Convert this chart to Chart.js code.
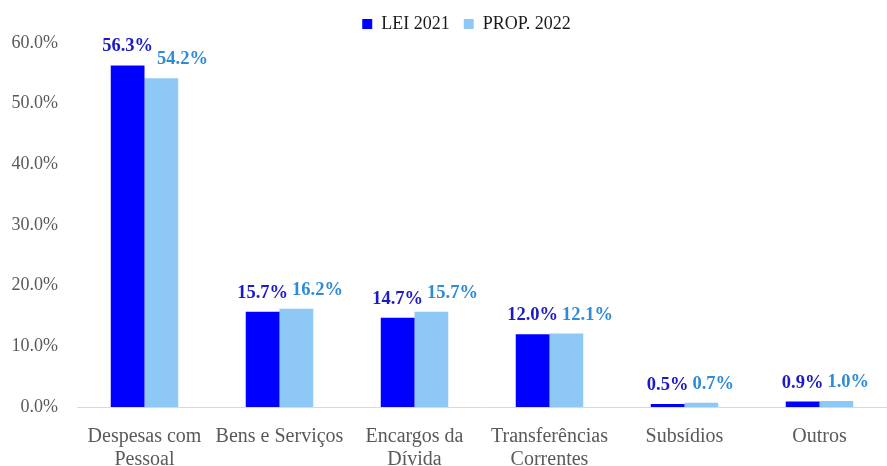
<!DOCTYPE html>
<html>
<head>
<meta charset="utf-8">
<script src="https://cdn.jsdelivr.net/npm/chart.js@4"></script>
<style>
html,body{margin:0;padding:0;background:#fff;}
#wrap{width:887px;height:466px;position:relative;}
</style>
</head>
<body>
<div id="wrap"><canvas id="c"></canvas></div>
<script>
const categories = [["Despesas com","Pessoal"],"Bens e Serviços",["Encargos da","Dívida"],["Transferências","Correntes"],"Subsídios","Outros"];
const lei2021 = [56.3, 15.7, 14.7, 12.0, 0.5, 0.9];
const prop2022 = [54.2, 16.2, 15.7, 12.1, 0.7, 1.0];
const seriesNames = ["LEI 2021", "PROP. 2022"];
const yTicks = [0, 10, 20, 30, 40, 50, 60];

const FONT = "'Liberation Serif', serif";
const labelColors = ["#1a1ac8", "#2e8bd6"];

const dataLabels = {
  id: 'dataLabels',
  afterLayout(chart) {
    const lg = chart.legend;
    if (lg) { lg.left += 23; lg.right += 23; }
  },
  afterDatasetsDraw(chart) {
    const ctx = chart.ctx;
    ctx.save();
    ctx.font = "bold 18.5px " + FONT;
    ctx.textBaseline = 'alphabetic';
    const m0 = chart.getDatasetMeta(0), m1 = chart.getDatasetMeta(1);
    const d0 = chart.data.datasets[0].data, d1 = chart.data.datasets[1].data;
    m0.data.forEach((bar, j) => {
      const t0 = d0[j].toFixed(1) + '%';
      const t1 = d1[j].toFixed(1) + '%';
      const w0 = ctx.measureText(t0).width, w1 = ctx.measureText(t1).width;
      const l0 = bar.x - w0 / 2;
      const b1 = m1.data[j];
      const l1 = Math.max(b1.x - w1 / 2, l0 + w0 + 4);
      ctx.textAlign = 'left';
      ctx.fillStyle = labelColors[0];
      ctx.fillText(t0, l0, bar.y - 14);
      ctx.fillStyle = labelColors[1];
      ctx.fillText(t1, l1, b1.y - 14);
    });
    ctx.restore();
  }
};

new Chart(document.getElementById('c'), {
  type: 'bar',
  data: {
    labels: categories,
    datasets: [
      { label: seriesNames[0], data: lei2021, backgroundColor: '#0000ff', categoryPercentage: 0.5, barPercentage: 1.0 },
      { label: seriesNames[1], data: prop2022, backgroundColor: '#8ec8f4', categoryPercentage: 0.5, barPercentage: 1.0 }
    ]
  },
  options: {
    responsive: true,
    maintainAspectRatio: false,
    animation: false,
    layout: { padding: { left: 0, right: 0, top: 1, bottom: 0 } },
    plugins: {
      legend: {
        position: 'top',
        labels: { boxWidth: 10, boxHeight: 10, padding: 14, color: '#1a1a1a', font: { family: FONT, size: 18 } }
      },
      tooltip: { enabled: false }
    },
    scales: {
      x: {
        grid: { display: false },
        border: { color: '#d9d9d9', width: 1 },
        ticks: { color: '#595959', font: { family: FONT, size: 20, lineHeight: 1.15 }, maxRotation: 0, autoSkip: false, padding: 10 },
        afterFit(axis) { axis.height = 59; }
      },
      y: {
        min: 0, max: 60,
        afterBuildTicks(axis) { axis.ticks = yTicks.map(v => ({ value: v })); },
        grid: { display: false },
        border: { display: false },
        ticks: { color: '#595959', font: { family: FONT, size: 18 }, padding: 11, callback: v => v.toFixed(1) + '%' },
        afterFit(axis) { axis.width = 77; }
      }
    }
  },
  plugins: [dataLabels]
});
</script>
</body>
</html>
